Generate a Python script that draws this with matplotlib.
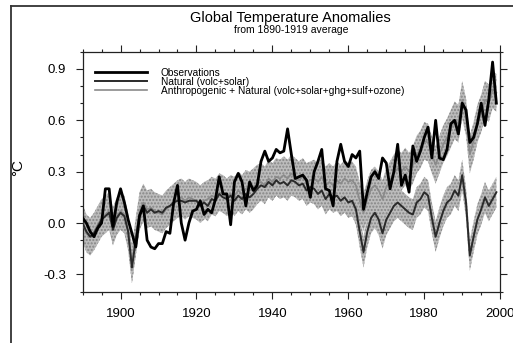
import matplotlib
matplotlib.use("Agg")
import matplotlib.pyplot as plt
import numpy as np
from matplotlib.lines import Line2D
from matplotlib.ticker import MultipleLocator

plt.rcParams['font.family'] = ['Liberation Sans', 'DejaVu Sans']

years = list(range(1890, 2000))

observations = [
    0.03, 0.00, -0.05, -0.08, -0.03, 0.00, 0.20, 0.20, -0.02, 0.12,
    0.20, 0.12, 0.02, -0.06, -0.14, 0.04, 0.10, -0.10, -0.14, -0.15,
    -0.12, -0.12, -0.05, -0.06, 0.12, 0.22, 0.00, -0.10, 0.00, 0.07,
    0.08, 0.13, 0.05, 0.08, 0.06, 0.14, 0.27, 0.17, 0.17, -0.01,
    0.24, 0.29, 0.24, 0.10, 0.24, 0.19, 0.22, 0.36, 0.42, 0.36,
    0.38, 0.43, 0.41, 0.42, 0.55, 0.40, 0.26, 0.27, 0.28, 0.25,
    0.15, 0.30, 0.36, 0.43, 0.20, 0.19, 0.10, 0.36, 0.46, 0.36,
    0.33, 0.40, 0.38, 0.42, 0.08, 0.18, 0.27, 0.30, 0.26, 0.38,
    0.35, 0.20, 0.30, 0.46, 0.22, 0.28, 0.18, 0.45, 0.36, 0.42,
    0.50, 0.56, 0.38, 0.60, 0.38, 0.37, 0.43, 0.58, 0.60, 0.52,
    0.70, 0.66, 0.47, 0.50, 0.58, 0.70, 0.57, 0.72, 0.94, 0.70,
]

natural = [
    0.00, -0.05, -0.08, -0.06, -0.02, 0.02, 0.04, 0.06, -0.04, 0.03,
    0.06, 0.04, -0.05, -0.26, -0.10, 0.05, 0.10, 0.06, 0.08, 0.06,
    0.07, 0.06, 0.09, 0.10, 0.12, 0.13, 0.13, 0.12, 0.13, 0.13,
    0.13, 0.10, 0.12, 0.10, 0.14, 0.13, 0.17, 0.15, 0.14, 0.16,
    0.13, 0.16, 0.14, 0.17, 0.15, 0.17, 0.20, 0.22, 0.21, 0.24,
    0.22, 0.25, 0.23, 0.24, 0.22, 0.25, 0.24, 0.22, 0.23, 0.19,
    0.21, 0.20, 0.17, 0.19, 0.14, 0.17, 0.15, 0.16, 0.13, 0.15,
    0.12, 0.13, 0.08, -0.05, -0.17, -0.05, 0.03, 0.06, 0.02, -0.06,
    0.02, 0.06, 0.10, 0.12, 0.10, 0.08, 0.06, 0.05, 0.12, 0.14,
    0.18, 0.16, 0.03, -0.08, 0.00, 0.07, 0.12, 0.14, 0.19, 0.16,
    0.28, 0.12, -0.19, -0.08, 0.02, 0.08, 0.15, 0.10, 0.14, 0.18,
]

anthro_natural = [
    0.00, -0.06, -0.08, -0.05, -0.01, 0.03, 0.05, 0.07, -0.02, 0.04,
    0.07, 0.05, -0.05, -0.24, -0.08, 0.07, 0.12, 0.08, 0.09, 0.07,
    0.06, 0.05, 0.08, 0.10, 0.12, 0.14, 0.15, 0.13, 0.15, 0.14,
    0.13, 0.11, 0.13, 0.14, 0.16, 0.15, 0.18, 0.17, 0.15, 0.17,
    0.16, 0.19, 0.17, 0.20, 0.19, 0.21, 0.23, 0.24, 0.22, 0.26,
    0.24, 0.27, 0.26, 0.28, 0.26, 0.29, 0.27, 0.25, 0.27, 0.24,
    0.25, 0.26, 0.24, 0.27, 0.22, 0.24, 0.22, 0.25, 0.23, 0.26,
    0.24, 0.25, 0.22, 0.13, 0.06, 0.14, 0.20, 0.22, 0.19, 0.14,
    0.21, 0.25, 0.29, 0.32, 0.30, 0.33, 0.30, 0.34, 0.40, 0.43,
    0.48, 0.47, 0.40, 0.34, 0.40, 0.46, 0.50, 0.55, 0.60, 0.58,
    0.72, 0.62, 0.40, 0.48, 0.58, 0.64, 0.72, 0.70, 0.78, 0.76,
]

natural_spread = 0.09
anthro_spread = 0.11

labels = ["Observations", "Natural (volc+solar)",
          "Anthropogenic + Natural (volc+solar+ghg+sulf+ozone)"]

x = np.array(years)
obs = np.array(observations)
nat = np.array(natural)
ant = np.array(anthro_natural)

fig = plt.figure(figsize=(5.13, 3.43), dpi=100)
ax = fig.add_axes([0.161, 0.150, 0.814, 0.699])

band_kw = dict(facecolor='#bcbcbc', edgecolor='#858585', hatch='.....',
               linewidth=0, zorder=1)
ax.fill_between(x, ant - anthro_spread, ant + anthro_spread, **band_kw)
ax.fill_between(x, nat - natural_spread, nat + natural_spread, **band_kw)

ax.plot(x, ant, color='#8a8a8a', lw=1.2, zorder=3, label=labels[2])
ax.plot(x, nat, color='#2a2a2a', lw=1.4, zorder=4, label=labels[1])
ax.plot(x, obs, color='black', lw=2.0, zorder=5, label=labels[0])

ax.set_xlim(1890, 2000)
ax.set_ylim(-0.4, 1.0)
ax.set_xticks([1900, 1920, 1940, 1960, 1980, 2000])
ax.set_yticks([-0.3, 0.0, 0.3, 0.6, 0.9])
ax.set_yticklabels(["-0.3", "0.0", "0.3", "0.6", "0.9"])
ax.xaxis.set_minor_locator(MultipleLocator(5))
ax.yaxis.set_minor_locator(MultipleLocator(0.1))
ax.tick_params(which='both', direction='out', top=True, right=True,
               labelsize=9.5, color='#222222', width=0.8)
ax.tick_params(which='major', length=5, pad=7)
ax.tick_params(which='minor', length=2.5)
for s in ax.spines.values():
    s.set_linewidth(0.9)
    s.set_color('#222222')

handles, labs = ax.get_legend_handles_labels()
order = [2, 1, 0]
leg = ax.legend([handles[i] for i in order], [labs[i] for i in order],
                loc='upper left', bbox_to_anchor=(0.0, 0.985), frameon=False,
                fontsize=7.3, handlelength=5.2, handletextpad=1.3,
                labelspacing=-0.08, borderaxespad=0.8)

fig.text(0.567, 0.948, "Global Temperature Anomalies", ha='center',
         va='center', fontsize=10.5)
fig.text(0.567, 0.912, "from 1890-1919 average", ha='center', va='center',
         fontsize=7.5)
fig.text(0.036, 0.513, "°C", rotation=90, ha='center', va='center',
         fontsize=11)

# page frame
fig.add_artist(Line2D([11 / 513, 11 / 513], [0, 1 - 6 / 343],
                      transform=fig.transFigure, color='#333333', lw=1.3))
fig.add_artist(Line2D([11 / 513, 1], [1 - 6 / 343, 1 - 6 / 343],
                      transform=fig.transFigure, color='#333333', lw=1.3))

fig.savefig("out.png", dpi=100)
